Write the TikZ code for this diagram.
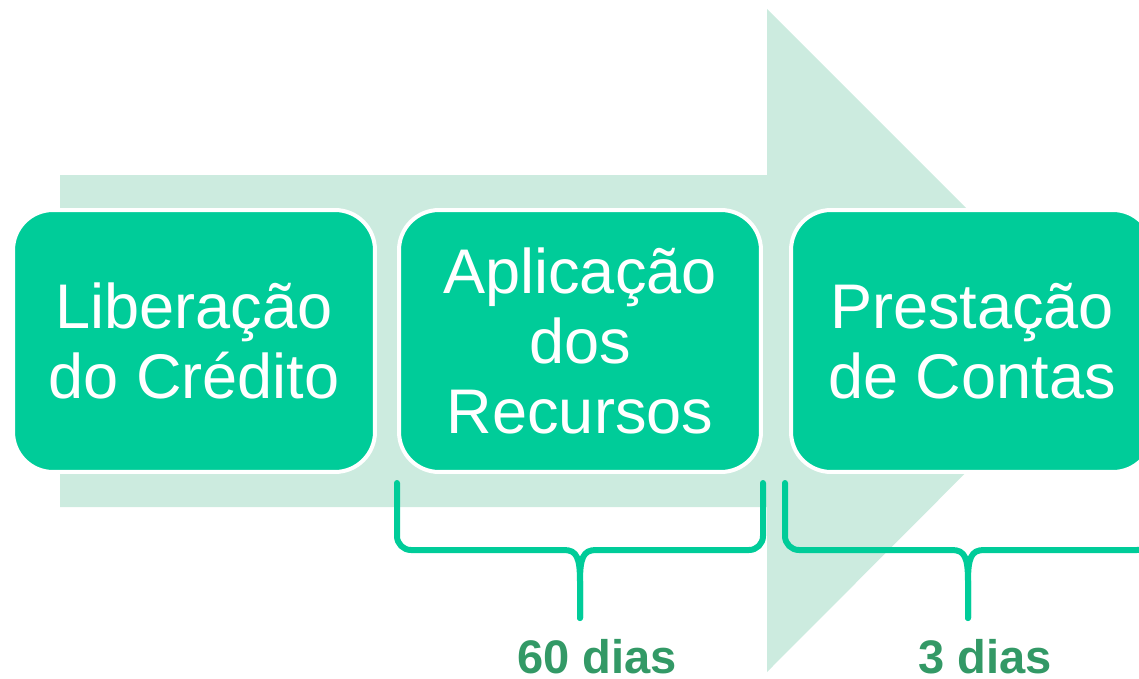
\documentclass[tikz,border=0pt]{standalone}
\usepackage{fontspec}
\setmainfont{Liberation Sans}
\definecolor{boxgreen}{HTML}{00CC99}
\definecolor{arrowgreen}{HTML}{CCEBDF}
\definecolor{textgreen}{HTML}{339966}

\begin{document}
\begin{tikzpicture}[x=0.02cm,y=-0.02cm,
    etapa/.style={fill=boxgreen,draw=white,line width=0.08cm,rounded corners=0.8cm,
      minimum width=7.24cm,minimum height=5.24cm,inner sep=0pt,align=center,
      text=white,font=\fontsize{35.9}{39.8}\selectfont},
    chave/.style={draw=boxgreen,line width=0.12cm,line cap=round,line join=round},
    prazo/.style={text=textgreen,font=\bfseries\fontsize{26.8}{30}\selectfont,
      inner sep=0pt,anchor=base}]
       \useasboundingbox (0,0) rectangle (1139,679);
       \fill[arrowgreen] (60,175) -- (767,175) -- (767,9) -- (1098,340)
         -- (767,672) -- (767,507) -- (60,507) -- cycle;
       \node[etapa] (liberacao) at (194,341) {Liberação\\do Crédito};
       \node[etapa] (aplicacao) at (580,341) {Aplicação\\dos\\Recursos};
       \node[etapa] (prestacao) at (972,341) {Prestação\\de Contas};
       \foreach \l/\m/\r/\t [count=\i] in {397/580/763/60 dias, 785/968/1151/3 dias}
       {
         \coordinate (ponta\i) at (\m,618);
         \draw[chave] (\l,483) -- (\l,536) to[out=-90,in=180] (\l+14,550)
           -- (\m-16,550) .. controls (\m-3,550) and (\m,558) .. (\m,582) -- (ponta\i);
         \draw[chave] (\r,483) -- (\r,536) to[out=-90,in=0] (\r-14,550)
           -- (\m+16,550) .. controls (\m+3,550) and (\m,558) .. (\m,582) -- (ponta\i);
         \node[prazo] (prazo\i) at (\m+17,673) {\t};
       }
     \end{tikzpicture}
\end{document}
